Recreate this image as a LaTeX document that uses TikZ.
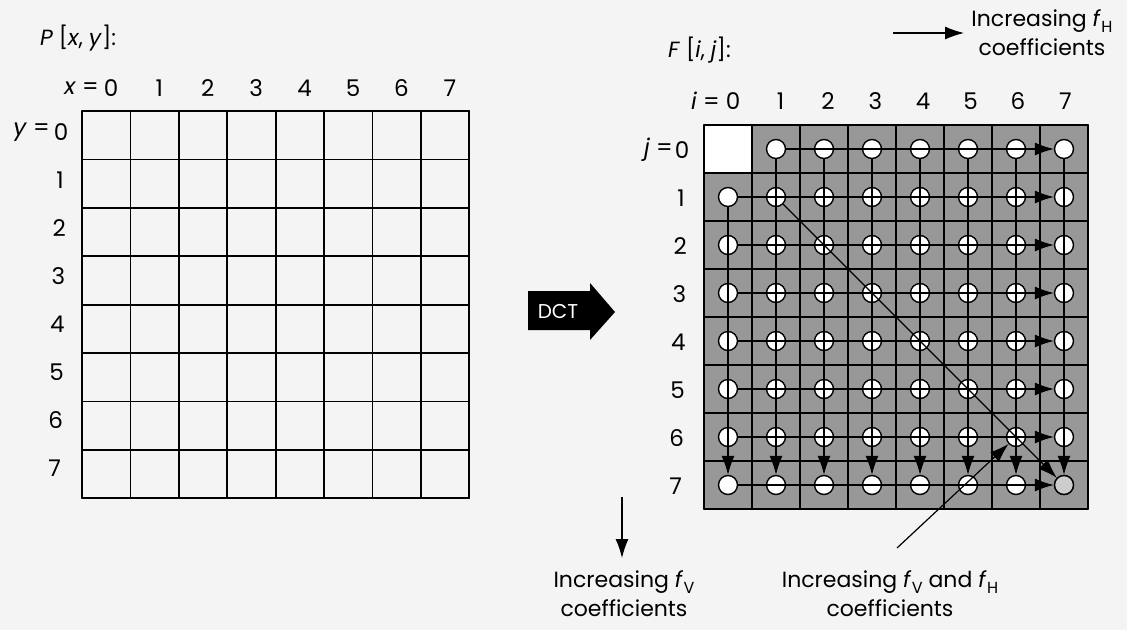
\documentclass[tikz,border=0pt]{standalone}
\usepackage{fontspec}
\setmainfont{Poppins}
\usetikzlibrary{arrows.meta}
\definecolor{paper}{RGB}{244,244,244}
\definecolor{cellgray}{RGB}{152,152,152}
\definecolor{dotgray}{RGB}{205,205,205}
\newcommand{\fsub}[1]{\textit{f}\kern0.02em\raisebox{-0.5ex}{\fontsize{16}{18}\selectfont #1}}
\begin{document}
\begin{tikzpicture}[x=1pt,y=-1pt,
  lbl/.style={font=\fontsize{22}{29}\selectfont, inner sep=0pt},
  num/.style={font=\fontsize{23}{26}\selectfont, inner sep=0pt},
  gridline/.style={line width=1.8pt, line cap=round},
  dot/.style={circle, draw, line width=1.4pt, fill=white, minimum size=19pt, inner sep=0pt},
  arr/.style={line width=1.2pt, -{Latex[length=19pt,width=13pt]}},
  dctarrow/.style={fill=black}]
\useasboundingbox[fill=paper] (0,0) rectangle (1127,630);
% ---------- left grid ----------
\node[lbl, anchor=west] (P) at (40,38) {\textit{P} [\textit{x}, \textit{y}]:};
\foreach \k in {0,...,8}{
  \draw[gridline] ({82+48.4*\k},111) -- ({82+48.4*\k},498);
  \draw[gridline] (82,{111+48.4*\k}) -- (469.2,{111+48.4*\k});
}
\node[num, anchor=east] (xeq) at (99,88) {\textit{x} =};
\foreach \i in {0,...,7}{
  \node[num] (x-\i) at ({111+48.4*\i},88) {\i};
}
\node[num, anchor=east] (yeq) at (50,132) {\textit{y} =};
\foreach \j in {0,...,7}{
  \node[num] (y-\j) at ({61-0.9*\j},{132+48*\j}) {\j};
}
% ---------- DCT arrow ----------
\fill[dctarrow] (528,291) -- (590,291) -- (590,283) -- (615,312) -- (590,340) -- (590,330) -- (528,330) -- cycle;
\node[font=\fontsize{20}{22}\selectfont, text=white, inner sep=0pt] (dct) at (558,311) {DCT};
% ---------- right grid ----------
\node[lbl, anchor=west] (F) at (668,50) {\textit{F} [\textit{i}, \textit{j}]:};
\fill[cellgray] (704,125) rectangle (1088,509);
\fill[white] (704,125) rectangle (752,173);
\foreach \k in {0,...,8}{
  \draw[gridline] ({704+48*\k},125) -- ({704+48*\k},509);
  \draw[gridline] (704,{125+48*\k}) -- (1088,{125+48*\k});
}
\node[num, anchor=east] (ieq) at (720,101) {\textit{i} =};
\foreach \i in {0,...,7}{
  \node[num] (i-\i) at ({733+47.5*\i},101) {\i};
}
\node[num, anchor=east] (jeq) at (673,150) {\textit{j} =};
\foreach \j in {0,...,7}{
  \node[num] (j-\j) at ({682-0.9*\j},{150+48*\j}) {\j};
}
% circles
\foreach \i in {0,...,7}{
  \foreach \j in {0,...,7}{
    \ifnum\i\j=0\relax\else
      \node[dot] (c-\i-\j) at ({728+48*\i},{149+48*\j}) {};
    \fi
  }
}
\node[dot, fill=dotgray] (c-7-7) at ({728+48*7},{149+48*7}) {};
% row arrows
\draw[arr] (c-1-0) -- (c-7-0);
\foreach \j in {1,...,7}{ \draw[arr] (c-0-\j) -- (c-7-\j); }
% column arrows
\draw[arr] (c-0-1) -- (c-0-7);
\foreach \i in {1,...,7}{ \draw[arr] (c-\i-0) -- (c-\i-7); }
% diagonal
\draw[arr] (c-1-1) -- (c-7-7);
% ---------- annotations ----------
\coordinate (fhs) at (893,33);
\coordinate (fhe) at (964,33);
\draw[arr] (fhs) -- (fhe);
\node[lbl, align=center] (fhlab) at (1042,33) {Increasing \fsub{H}\\coefficients};
\coordinate (fvs) at (622,497);
\coordinate (fve) at (622,558);
\draw[arr] (fvs) -- (fve);
\node[lbl, align=center] (fvlab) at (624,594) {Increasing \fsub{V}\\coefficients};
\coordinate (ptr) at (897,548);
\draw[arr] (ptr) -- (c-6-6);
\node[lbl, align=center] (fvhlab) at (890,594) {Increasing \fsub{V} and \fsub{H}\\coefficients};
\end{tikzpicture}
\end{document}
